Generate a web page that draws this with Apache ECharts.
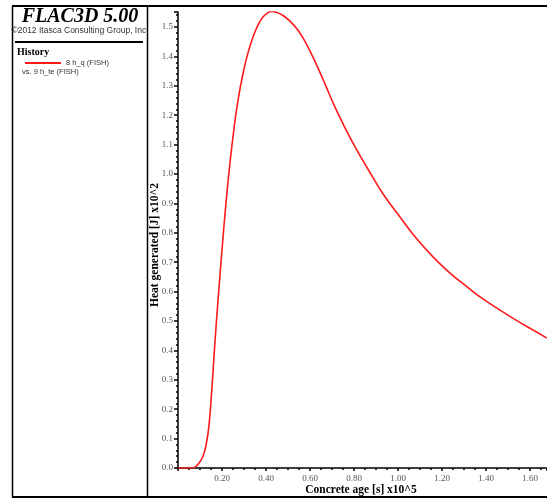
<!DOCTYPE html>
<html>
<head>
<meta charset="utf-8">
<script src="https://cdn.jsdelivr.net/npm/echarts@6/dist/echarts.min.js"></script>
<style>
html,body{margin:0;padding:0;background:#fff;}
#chart{width:547px;height:498px;}
</style>
</head>
<body>
<div id="chart"></div>
<script>
// Concrete age [s] x10^5
var ageValues = [0, 0.055, 0.077, 0.096, 0.114, 0.127, 0.141, 0.155, 0.168, 0.182, 0.200, 0.218, 0.236, 0.255, 0.273, 0.295, 0.318, 0.341, 0.364, 0.386, 0.409, 0.427, 0.450, 0.477, 0.509, 0.541, 0.568, 0.600, 0.636, 0.673, 0.705, 0.759, 0.809, 0.859, 0.932, 1.009, 1.082, 1.159, 1.236, 1.314, 1.386, 1.464, 1.536, 1.614, 1.677];
// Heat generated [J] x10^2
var heatValues = [0, 0, 0.003, 0.017, 0.041, 0.075, 0.146, 0.282, 0.429, 0.571, 0.742, 0.901, 1.037, 1.157, 1.252, 1.340, 1.412, 1.466, 1.507, 1.534, 1.549, 1.553, 1.549, 1.539, 1.520, 1.493, 1.463, 1.418, 1.361, 1.298, 1.241, 1.157, 1.086, 1.022, 0.932, 0.854, 0.782, 0.718, 0.663, 0.616, 0.575, 0.537, 0.503, 0.469, 0.442];
var seriesName = '8 h_q (FISH)';
var xLabelValues = [0.2, 0.4, 0.6, 0.8, 1.0, 1.2, 1.4, 1.6];
var yLabelValues = [0, 0.1, 0.2, 0.3, 0.4, 0.5, 0.6, 0.7, 0.8, 0.9, 1.0, 1.1, 1.2, 1.3, 1.4, 1.5];

var data = ageValues.map(function (x, i) { return [x, heatValues[i]]; });
function isIn(list, v) {
  for (var i = 0; i < list.length; i++) if (Math.abs(list[i] - v) < 1e-6) return true;
  return false;
}
var serif = 'Liberation Serif';
var chart = echarts.init(document.getElementById('chart'));
chart.setOption({
  animation: false,
  backgroundColor: '#fff',
  grid: { left: 178, top: 12, right: 0, bottom: 30, containLabel: false },
  legend: {
    left: 20, top: 54, orient: 'vertical',
    data: [{ name: seriesName, icon: 'rect' }],
    itemWidth: 36, itemHeight: 2, itemGap: 4,
    textStyle: { fontFamily: 'Liberation Sans', fontSize: 7.5, color: '#333' }
  },
  xAxis: {
    type: 'value', min: 0, max: 1.677, interval: 0.2,
    axisLine: { show: true, lineStyle: { color: '#000', width: 1.5 } },
    axisTick: { show: true, length: 3, lineStyle: { color: '#000', width: 1.5 } },
    minorTick: { show: true, splitNumber: 4, length: 2, lineStyle: { color: '#000', width: 1.5 } },
    splitLine: { show: false },
    axisLabel: {
      fontFamily: serif, fontSize: 9, color: '#555', margin: 6,
      showMaxLabel: false,
      formatter: function (v) { return isIn(xLabelValues, v) ? v.toFixed(2) : ''; }
    }
  },
  yAxis: {
    type: 'value', min: 0, max: 1.551, interval: 0.1,
    axisLine: { show: true, lineStyle: { color: '#000', width: 1.5 } },
    axisTick: { show: true, length: 4, lineStyle: { color: '#000', width: 1.5 } },
    minorTick: { show: true, splitNumber: 5, length: 2, lineStyle: { color: '#000', width: 1.5 } },
    splitLine: { show: false },
    axisLabel: {
      fontFamily: serif, fontSize: 9, color: '#555', margin: 5,
      showMaxLabel: false,
      formatter: function (v) { return isIn(yLabelValues, v) ? v.toFixed(1) : ''; }
    }
  },
  series: [{
    name: seriesName, type: 'line', data: data, smooth: 0.45,
    symbol: 'none', clip: true,
    lineStyle: { color: '#ff1a1a', width: 1.6 },
    itemStyle: { color: '#ff1a1a' }
  }],
  graphic: [
    { type: 'line', shape: { x1: 12, y1: 6, x2: 547, y2: 6 }, style: { stroke: '#000', lineWidth: 2 } },
    { type: 'line', shape: { x1: 12, y1: 497, x2: 547, y2: 497 }, style: { stroke: '#000', lineWidth: 2 } },
    { type: 'line', shape: { x1: 12.5, y1: 6, x2: 12.5, y2: 497 }, style: { stroke: '#000', lineWidth: 1.5 } },
    { type: 'line', shape: { x1: 147.5, y1: 6, x2: 147.5, y2: 497 }, style: { stroke: '#000', lineWidth: 1.5 } },
    { type: 'line', shape: { x1: 15, y1: 42, x2: 143, y2: 42 }, style: { stroke: '#000', lineWidth: 2 } },
    { type: 'text', x: 80, y: 17, style: { text: 'FLAC3D 5.00', font: 'italic bold 20px "Liberation Serif"', fill: '#000', align: 'center', verticalAlign: 'middle' } },
    { type: 'text', x: 80, y: 31, style: { text: '\u00A92012 Itasca Consulting Group, Inc.', font: '8.5px "Liberation Sans"', fill: '#333', align: 'center', verticalAlign: 'middle' } },
    { type: 'text', x: 17, y: 52, style: { text: 'History', font: 'bold 10px "Liberation Serif"', fill: '#000', align: 'left', verticalAlign: 'middle' } },
    { type: 'text', x: 22, y: 72, style: { text: 'vs. 9 h_te (FISH)', font: '7.5px "Liberation Sans"', fill: '#333', align: 'left', verticalAlign: 'middle' } },
    { type: 'text', x: 361, y: 490, style: { text: 'Concrete age [s] x10^5', font: 'bold 11.5px "Liberation Serif"', fill: '#000', align: 'center', verticalAlign: 'middle' } },
    { type: 'text', x: 155, y: 245, rotation: Math.PI / 2, style: { text: 'Heat generated [J] x10^2', font: 'bold 11.5px "Liberation Serif"', fill: '#000', align: 'center', verticalAlign: 'middle' } }
  ]
});
</script>
</body>
</html>
